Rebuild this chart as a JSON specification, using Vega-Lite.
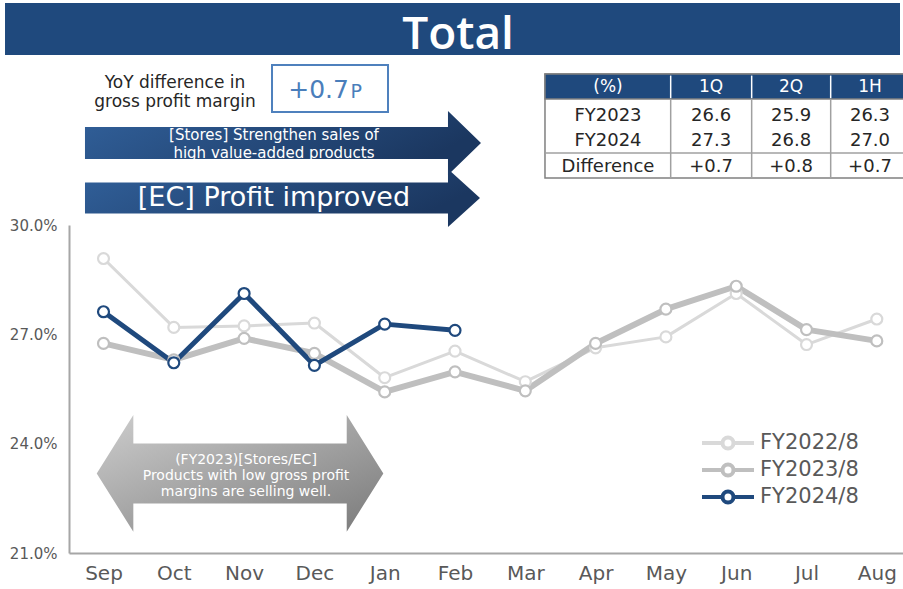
{
  "$schema": "https://vega.github.io/schema/vega-lite/v6.json",
  "width": 834,
  "height": 328,
  "autosize": {"type": "none"},
  "padding": {"left": 69, "top": 225, "right": 0, "bottom": 36},
  "background": "white",
  "config": {"view": {"stroke": null}, "font": "DejaVu Sans", "text": {"font": "DejaVu Sans"}},
  "data": {"values": [{}]},
  "datasets": {
    "margin": [
      {"month": "Sep", "series": "FY2022/8", "value": 29.08},
      {"month": "Oct", "series": "FY2022/8", "value": 27.19},
      {"month": "Nov", "series": "FY2022/8", "value": 27.23},
      {"month": "Dec", "series": "FY2022/8", "value": 27.31},
      {"month": "Jan", "series": "FY2022/8", "value": 25.81},
      {"month": "Feb", "series": "FY2022/8", "value": 26.54},
      {"month": "Mar", "series": "FY2022/8", "value": 25.70},
      {"month": "Apr", "series": "FY2022/8", "value": 26.63},
      {"month": "May", "series": "FY2022/8", "value": 26.93},
      {"month": "Jun", "series": "FY2022/8", "value": 28.12},
      {"month": "Jul", "series": "FY2022/8", "value": 26.72},
      {"month": "Aug", "series": "FY2022/8", "value": 27.42},
      {"month": "Sep", "series": "FY2023/8", "value": 26.75},
      {"month": "Oct", "series": "FY2023/8", "value": 26.30},
      {"month": "Nov", "series": "FY2023/8", "value": 26.89},
      {"month": "Dec", "series": "FY2023/8", "value": 26.48},
      {"month": "Jan", "series": "FY2023/8", "value": 25.42},
      {"month": "Feb", "series": "FY2023/8", "value": 25.97},
      {"month": "Mar", "series": "FY2023/8", "value": 25.45},
      {"month": "Apr", "series": "FY2023/8", "value": 26.75},
      {"month": "May", "series": "FY2023/8", "value": 27.69},
      {"month": "Jun", "series": "FY2023/8", "value": 28.32},
      {"month": "Jul", "series": "FY2023/8", "value": 27.13},
      {"month": "Aug", "series": "FY2023/8", "value": 26.82},
      {"month": "Sep", "series": "FY2024/8", "value": 27.62},
      {"month": "Oct", "series": "FY2024/8", "value": 26.22},
      {"month": "Nov", "series": "FY2024/8", "value": 28.12},
      {"month": "Dec", "series": "FY2024/8", "value": 26.15},
      {"month": "Jan", "series": "FY2024/8", "value": 27.28},
      {"month": "Feb", "series": "FY2024/8", "value": 27.11}
    ],
    "tableCells": [
      {"x": 7.176, "y": 32.999, "label": "FY2023"},
      {"x": 8.642, "y": 32.999, "label": "26.6"},
      {"x": 9.780, "y": 32.999, "label": "25.9"},
      {"x": 10.903, "y": 32.999, "label": "26.3"},
      {"x": 7.176, "y": 32.313, "label": "FY2024"},
      {"x": 8.642, "y": 32.313, "label": "27.3"},
      {"x": 9.780, "y": 32.313, "label": "26.8"},
      {"x": 10.903, "y": 32.313, "label": "27.0"},
      {"x": 7.176, "y": 31.605, "label": "Difference"},
      {"x": 8.642, "y": 31.605, "label": "+0.7"},
      {"x": 9.780, "y": 31.605, "label": "+0.8"},
      {"x": 10.903, "y": 31.605, "label": "+0.7"}
    ],
    "tableHead": [
      {"x": 7.176, "y": 33.800, "label": "(%)"},
      {"x": 8.642, "y": 33.800, "label": "1Q"},
      {"x": 9.780, "y": 33.800, "label": "2Q"},
      {"x": 10.903, "y": 33.800, "label": "1H"}
    ],
    "tableCols": [{"x": 8.068}, {"x": 9.220}, {"x": 10.344}]
  },
  "resolve": {"scale": {"x": "independent", "y": "independent"}},
  "layer": [
    {
      "mark": {"type": "rect", "color": "#1f497d"},
      "encoding": {
        "x": {"datum": -1.401, "type": "quantitative", "scale": {"domain": [-0.4908, 11.3727], "nice": false, "zero": false}, "axis": null},
        "x2": {"datum": 11.330},
        "y": {"datum": 36.092, "type": "quantitative", "scale": {"domain": [21, 30], "nice": false, "zero": false}, "axis": null},
        "y2": {"datum": 34.665}
      }
    },
    {
      "mark": {"type": "text", "text": "Total", "font": "Open Sans", "fontWeight": 600, "fontSize": 46, "color": "white", "align": "center", "baseline": "alphabetic"},
      "encoding": {
        "x": {"datum": 5.043, "type": "quantitative", "scale": {"domain": [-0.4908, 11.3727], "nice": false, "zero": false}, "axis": null},
        "y": {"datum": 34.829, "type": "quantitative", "scale": {"domain": [21, 30], "nice": false, "zero": false}, "axis": null}
      }
    },
    {
      "mark": {"type": "text", "text": ["YoY difference in", "gross profit margin"], "fontSize": 17, "lineHeight": 19, "color": "#262626", "align": "center", "baseline": "middle"},
      "encoding": {
        "x": {"datum": 1.017, "type": "quantitative", "scale": {"domain": [-0.4908, 11.3727], "nice": false, "zero": false}, "axis": null},
        "y": {"datum": 33.896, "type": "quantitative", "scale": {"domain": [21, 30], "nice": false, "zero": false}, "axis": null}
      }
    },
    {
      "mark": {"type": "rect", "fill": "white", "stroke": "#4f81bd", "strokeWidth": 2},
      "encoding": {
        "x": {"datum": 2.397, "type": "quantitative", "scale": {"domain": [-0.4908, 11.3727], "nice": false, "zero": false}, "axis": null},
        "x2": {"datum": 4.047},
        "y": {"datum": 34.390, "type": "quantitative", "scale": {"domain": [21, 30], "nice": false, "zero": false}, "axis": null},
        "y2": {"datum": 33.101}
      }
    },
    {
      "mark": {"type": "text", "text": "+0.7", "fontSize": 25, "color": "#4a7ebb", "align": "right", "baseline": "alphabetic"},
      "encoding": {
        "x": {"datum": 3.492, "type": "quantitative", "scale": {"domain": [-0.4908, 11.3727], "nice": false, "zero": false}, "axis": null},
        "y": {"datum": 33.485, "type": "quantitative", "scale": {"domain": [21, 30], "nice": false, "zero": false}, "axis": null}
      }
    },
    {
      "mark": {"type": "text", "text": "P", "fontSize": 19, "color": "#4a7ebb", "align": "left", "baseline": "alphabetic"},
      "encoding": {
        "x": {"datum": 3.514, "type": "quantitative", "scale": {"domain": [-0.4908, 11.3727], "nice": false, "zero": false}, "axis": null},
        "y": {"datum": 33.485, "type": "quantitative", "scale": {"domain": [21, 30], "nice": false, "zero": false}, "axis": null}
      }
    },
    {
      "mark": {"type": "point", "shape": "M-198,-16L165,-16L165,-32L198,0L165,32L165,16L-198,16Z", "size": 4, "filled": true, "opacity": 1, "strokeWidth": 0,
        "fill": {"gradient": "linear", "x1": 0, "y1": 0, "x2": 1, "y2": 0.3, "stops": [{"offset": 0, "color": "#31609a"}, {"offset": 1, "color": "#1b3760"}]}},
      "encoding": {
        "x": {"datum": 2.553, "type": "quantitative", "scale": {"domain": [-0.4908, 11.3727], "nice": false, "zero": false}, "axis": null},
        "y": {"datum": 32.250, "type": "quantitative", "scale": {"domain": [21, 30], "nice": false, "zero": false}, "axis": null}
      }
    },
    {
      "mark": {"type": "text", "text": ["[Stores] Strengthen sales of", "high value-added products"], "fontSize": 15, "lineHeight": 17.6, "color": "white", "align": "center", "baseline": "middle"},
      "encoding": {
        "x": {"datum": 2.425, "type": "quantitative", "scale": {"domain": [-0.4908, 11.3727], "nice": false, "zero": false}, "axis": null},
        "y": {"datum": 32.456, "type": "quantitative", "scale": {"domain": [21, 30], "nice": false, "zero": false}, "axis": null}
      }
    },
    {
      "mark": {"type": "point", "shape": "M-197.5,-15.5L165.5,-15.5L165.5,-29L197.5,0L165.5,29L165.5,15.5L-197.5,15.5Z", "size": 4, "filled": true, "opacity": 1, "strokeWidth": 0,
        "fill": {"gradient": "linear", "x1": 0, "y1": 0, "x2": 1, "y2": 0.3, "stops": [{"offset": 0, "color": "#31609a"}, {"offset": 1, "color": "#1b3760"}]}},
      "encoding": {
        "x": {"datum": 2.546, "type": "quantitative", "scale": {"domain": [-0.4908, 11.3727], "nice": false, "zero": false}, "axis": null},
        "y": {"datum": 30.741, "type": "quantitative", "scale": {"domain": [21, 30], "nice": false, "zero": false}, "axis": null}
      }
    },
    {
      "mark": {"type": "text", "text": "[EC] Profit improved", "fontSize": 27, "color": "white", "align": "center", "baseline": "middle"},
      "encoding": {
        "x": {"datum": 2.425, "type": "quantitative", "scale": {"domain": [-0.4908, 11.3727], "nice": false, "zero": false}, "axis": null},
        "y": {"datum": 30.741, "type": "quantitative", "scale": {"domain": [21, 30], "nice": false, "zero": false}, "axis": null}
      }
    },
    {
      "mark": {"type": "rect", "fill": "white", "stroke": "#808080", "strokeWidth": 1.5},
      "encoding": {
        "x": {"datum": 6.280, "type": "quantitative", "scale": {"domain": [-0.4908, 11.3727], "nice": false, "zero": false}, "axis": null},
        "x2": {"datum": 11.472},
        "y": {"datum": 34.143, "type": "quantitative", "scale": {"domain": [21, 30], "nice": false, "zero": false}, "axis": null},
        "y2": {"datum": 31.290}
      }
    },
    {
      "mark": {"type": "rect", "fill": "#1f497d", "stroke": "#808080", "strokeWidth": 1.5},
      "encoding": {
        "x": {"datum": 6.280, "type": "quantitative", "scale": {"domain": [-0.4908, 11.3727], "nice": false, "zero": false}, "axis": null},
        "x2": {"datum": 11.472},
        "y": {"datum": 34.143, "type": "quantitative", "scale": {"domain": [21, 30], "nice": false, "zero": false}, "axis": null},
        "y2": {"datum": 33.457}
      }
    },
    {
      "data": {"name": "tableCols"},
      "mark": {"type": "rule", "color": "#a0a0a0", "strokeWidth": 1.5},
      "encoding": {
        "x": {"field": "x", "type": "quantitative", "scale": {"domain": [-0.4908, 11.3727], "nice": false, "zero": false}, "axis": null},
        "y": {"datum": 33.457, "type": "quantitative", "scale": {"domain": [21, 30], "nice": false, "zero": false}, "axis": null},
        "y2": {"datum": 31.290}
      }
    },
    {
      "data": {"name": "tableCols"},
      "mark": {"type": "rule", "color": "#ffffff", "strokeWidth": 1.5},
      "encoding": {
        "x": {"field": "x", "type": "quantitative", "scale": {"domain": [-0.4908, 11.3727], "nice": false, "zero": false}, "axis": null},
        "y": {"datum": 34.10, "type": "quantitative", "scale": {"domain": [21, 30], "nice": false, "zero": false}, "axis": null},
        "y2": {"datum": 33.48}
      }
    },
    {
      "mark": {"type": "rule", "color": "#a0a0a0", "strokeWidth": 1.5},
      "encoding": {
        "x": {"datum": 6.280, "type": "quantitative", "scale": {"domain": [-0.4908, 11.3727], "nice": false, "zero": false}, "axis": null},
        "x2": {"datum": 11.472},
        "y": {"datum": 31.976, "type": "quantitative", "scale": {"domain": [21, 30], "nice": false, "zero": false}, "axis": null}
      }
    },
    {
      "data": {"name": "tableHead"},
      "mark": {"type": "text", "fontSize": 17, "color": "white", "align": "center", "baseline": "middle"},
      "encoding": {
        "x": {"field": "x", "type": "quantitative", "scale": {"domain": [-0.4908, 11.3727], "nice": false, "zero": false}, "axis": null},
        "y": {"field": "y", "type": "quantitative", "scale": {"domain": [21, 30], "nice": false, "zero": false}, "axis": null},
        "text": {"field": "label"}
      }
    },
    {
      "data": {"name": "tableCells"},
      "mark": {"type": "text", "fontSize": 18, "color": "#262626", "align": "center", "baseline": "middle"},
      "encoding": {
        "x": {"field": "x", "type": "quantitative", "scale": {"domain": [-0.4908, 11.3727], "nice": false, "zero": false}, "axis": null},
        "y": {"field": "y", "type": "quantitative", "scale": {"domain": [21, 30], "nice": false, "zero": false}, "axis": null},
        "text": {"field": "label"}
      }
    },
    {
      "mark": {"type": "point", "shape": "M-143.3,0L-106.7,-58.3L-106.7,-30L106.7,-30L106.7,-58.3L143.3,0L106.7,58.3L106.7,30L-106.7,30L-106.7,58.3Z", "size": 4, "filled": true, "opacity": 1, "strokeWidth": 0,
        "fill": {"gradient": "linear", "x1": 0, "y1": 0, "x2": 1, "y2": 1, "stops": [{"offset": 0, "color": "#cdcdcd"}, {"offset": 1, "color": "#7a7a7a"}]}},
      "encoding": {
        "x": {"datum": 1.942, "type": "quantitative", "scale": {"domain": [-0.4908, 11.3727], "nice": false, "zero": false}, "axis": null},
        "y": {"datum": 23.184, "type": "quantitative", "scale": {"domain": [21, 30], "nice": false, "zero": false}, "axis": null}
      }
    },
    {
      "mark": {"type": "text", "text": ["(FY2023)[Stores/EC]", "Products with low gross profit", "margins are selling well."], "fontSize": 14, "lineHeight": 16.4, "color": "white", "align": "center", "baseline": "middle"},
      "encoding": {
        "x": {"datum": 2.027, "type": "quantitative", "scale": {"domain": [-0.4908, 11.3727], "nice": false, "zero": false}, "axis": null},
        "y": {"datum": 23.563, "type": "quantitative", "scale": {"domain": [21, 30], "nice": false, "zero": false}, "axis": null}
      }
    },
    {
      "data": {"name": "margin"},
      "encoding": {
        "x": {
          "field": "month", "type": "ordinal",
          "sort": ["Sep", "Oct", "Nov", "Dec", "Jan", "Feb", "Mar", "Apr", "May", "Jun", "Jul", "Aug"],
          "scale": {"type": "point", "padding": 0.4317, "align": 0.5684},
          "axis": {"title": null, "labelAngle": 0, "labelFontSize": 20, "labelColor": "#595959", "labelPadding": 10, "ticks": false, "grid": false, "domainColor": "#a6a6a6", "domainWidth": 2}
        },
        "y": {
          "field": "value", "type": "quantitative",
          "scale": {"domain": [21, 30], "nice": false, "zero": false},
          "axis": {"title": null, "values": [21, 24, 27, 30], "labelExpr": "format(datum.value, '.1f') + '%'", "labelFontSize": 15, "labelColor": "#595959", "labelPadding": 12, "ticks": false, "grid": false, "domainColor": "#a6a6a6", "domainWidth": 2}
        },
        "color": {
          "field": "series", "type": "nominal",
          "scale": {"domain": ["FY2022/8", "FY2023/8", "FY2024/8"], "range": ["#d9d9d9", "#bfbfbf", "#1f497d"]},
          "legend": {
            "orient": "none", "legendX": 647, "legendY": 206, "title": null, "padding": 0,
            "symbolType": "M-2.6,0H-0.55M0.55,0H2.6M0.55,0A0.55,0.55,0,1,1,-0.55,0A0.55,0.55,0,1,1,0.55,0",
            "symbolSize": 400, "symbolStrokeWidth": 4, "symbolFillColor": "white",
            "labelFontSize": 21, "labelColor": "#595959", "labelFont": "DejaVu Sans", "labelOffset": 20, "rowPadding": -1
          }
        }
      },
      "layer": [
        {
          "mark": {"type": "line", "strokeJoin": "round", "strokeCap": "round"},
          "encoding": {
            "strokeWidth": {"condition": [{"test": "datum.series === 'FY2023/8'", "value": 6}, {"test": "datum.series === 'FY2024/8'", "value": 5}], "value": 3}
          }
        },
        {
          "mark": {"type": "point", "filled": false, "fill": "white", "size": 120, "strokeWidth": 2.2, "opacity": 1}
        }
      ]
    }
  ]
}
